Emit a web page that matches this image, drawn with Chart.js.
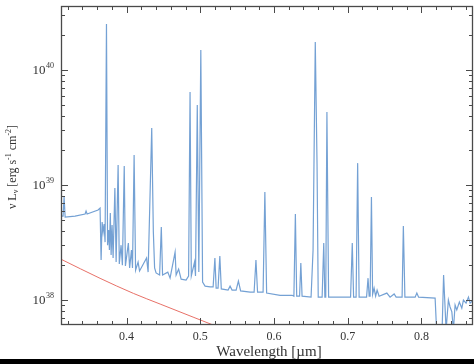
<!DOCTYPE html>
<html>
<head>
<meta charset="utf-8">
<script src="https://cdn.jsdelivr.net/npm/chart.js@4"></script>
<style>
  html, body { margin: 0; padding: 0; background: #000; }
  #wrap { width: 474px; height: 359px; background: #fff; }
  canvas { display: block; }
</style>
</head>
<body>
<div id="wrap"><canvas id="chart" width="474" height="359"></canvas></div>
<script>
// observed spectrum (wavelength in micron, nu L_nu in erg/s)
const wavelength = [
  0.3111, 0.3138, 0.3152, 0.3166, 0.3301, 0.3437, 0.3450, 0.3464, 0.3613, 0.3640,
  0.3654, 0.3668, 0.3681, 0.3695, 0.3708, 0.3727, 0.3742, 0.3756, 0.3767, 0.3779,
  0.3790, 0.3803, 0.3817, 0.3841, 0.3858, 0.3885, 0.3901, 0.3925, 0.3943, 0.3968,
  0.3984, 0.4024, 0.4041, 0.4066, 0.4080, 0.4102, 0.4122, 0.4156, 0.4176, 0.4271,
  0.4292, 0.4341, 0.4363, 0.4380, 0.4400, 0.4448, 0.4471, 0.4488, 0.4559, 0.4590,
  0.4658, 0.4672, 0.4706, 0.4740, 0.4807, 0.4841, 0.4861, 0.4878, 0.4922, 0.4935,
  0.4959, 0.4980, 0.5007, 0.5031, 0.5065, 0.5133, 0.5174, 0.5198, 0.5215, 0.5241,
  0.5265, 0.5285, 0.5377, 0.5404, 0.5431, 0.5486, 0.5517, 0.5547, 0.5676, 0.5730,
  0.5755, 0.5777, 0.5852, 0.5876, 0.5900, 0.6083, 0.6246, 0.6270, 0.6290, 0.6308,
  0.6347, 0.6364, 0.6381, 0.6503, 0.6530, 0.6560, 0.6584, 0.6600, 0.6653, 0.6675,
  0.6690, 0.6702, 0.6718, 0.6741, 0.7039, 0.7062, 0.7080, 0.7114, 0.7135, 0.7155,
  0.7256, 0.7276, 0.7291, 0.7304, 0.7322, 0.7338, 0.7358, 0.7379, 0.7399, 0.7426,
  0.7531, 0.7575, 0.7630, 0.7657, 0.7738, 0.7755, 0.7776, 0.7915, 0.7938, 0.7962,
  0.8186, 0.8206, 0.8281, 0.8301, 0.8335, 0.8366, 0.8389, 0.8413, 0.8434, 0.8457,
  0.8480, 0.8515, 0.8548, 0.8570, 0.8606, 0.8638, 0.8661, 0.8701
];
const flux = [
  5.37e38, 5.37e38, 7.9e38, 5.27e38, 5.37e38, 5.6e38, 5.94e38, 5.6e38, 6.07e38, 6.31e38,
  2.23e38, 4.77e38, 3.9e38, 4.58e38, 3.19e38, 2.51e40, 3.0e38, 4.06e38, 2.72e38, 5.71e38,
  2.46e38, 4.49e38, 2.32e38, 9.4e38, 2.14e38, 1.49e39, 2.06e38, 3.0e38, 2.01e38, 1.46e39,
  1.98e38, 3.13e38, 1.9e38, 2.72e38, 1.9e38, 1.82e39, 1.82e38, 2.14e38, 1.79e38, 2.32e38,
  1.75e38, 3.13e39, 3.9e38, 1.9e38, 1.72e38, 1.65e38, 4.31e38, 1.65e38, 1.75e38, 1.55e38,
  2.61e38, 1.65e38, 1.86e38, 1.52e38, 1.49e38, 1.62e38, 6.44e39, 1.62e38, 2.14e38, 1.62e38,
  4.97e39, 1.75e38, 1.49e40, 1.43e38, 1.32e38, 1.3e38, 1.3e38, 2.32e38, 1.27e38, 1.27e38,
  2.41e38, 1.25e38, 1.22e38, 1.32e38, 1.22e38, 1.22e38, 1.46e38, 1.2e38, 1.17e38, 1.17e38,
  2.23e38, 1.17e38, 1.17e38, 8.7e38, 1.15e38, 1.1e38, 1.1e38, 1.08e38, 5.6e38, 1.08e38,
  1.08e38, 2.1e38, 1.08e38, 1.06e38, 2.72e38, 1.75e40, 1.5e39, 1.06e38, 1.06e38, 3.13e38,
  1.06e38, 1.06e38, 4.31e39, 1.06e38, 1.06e38, 3.13e38, 1.06e38, 1.06e38, 1.55e39, 1.06e38,
  1.06e38, 1.55e38, 1.08e38, 1.08e38, 7.87e38, 1.12e38, 1.27e38, 1.08e38, 1.22e38, 1.08e38,
  1.15e38, 1.06e38, 1.13e38, 1.06e38, 1.06e38, 4.4e38, 1.06e38, 1.06e38, 1.15e38, 1.06e38,
  1.04e38, 5.5e37, 5.5e37, 1.65e38, 5.5e37, 1.0e38, 0.87e38, 0.79e38, 5.5e37, 0.905e38,
  0.82e38, 0.96e38, 0.85e38, 1.0e38, 0.94e38, 1.06e38, 0.94e38, 1.0e38
];
// red model curve
const modelWave = [0.3107, 0.3640, 0.4092, 0.4455, 0.4902, 0.5174, 0.5600];
const modelFlux = [2.27e38, 1.545e38, 1.143e38, 0.923e38, 0.711e38, 0.607e38, 0.48e38];

const xTicks = [0.4, 0.5, 0.6, 0.7, 0.8];
const xTickLabels = ["0.4", "0.5", "0.6", "0.7", "0.8"];
const yTicks = [1e38, 1e39, 1e40];
const yTickExps = ["38", "39", "40"];

const X_MIN = 0.311, X_MAX = 0.87;
const Y_MIN = 6.07e37, Y_MAX = 3.6e40;

// draws the IDL-style box with inward ticks and labels
const axisFrame = {
    id: "axisFrame",
    beforeDraw(chart) {
        const ctx = chart.ctx;
        ctx.save();
        ctx.fillStyle = "#fff";
        ctx.fillRect(0, 0, chart.width, chart.height);
        ctx.restore();
    },
    afterDraw(chart) {
        const { ctx, chartArea: a, scales: { x, y } } = chart;
        ctx.save();
        ctx.strokeStyle = "#4a4a4a";
        ctx.lineWidth = 1.3;
        ctx.strokeRect(a.left + 0.5, a.top + 0.5, a.right - a.left - 1, a.bottom - a.top - 1);

        ctx.lineWidth = 1;
        ctx.beginPath();
        // x minor/major ticks, bottom and top
        for (let i = 16; i <= 43; i++) {
            let v = i * 0.02;
            if (v < X_MIN || v > X_MAX) continue;
            let px = Math.round(x.getPixelForValue(v)) + 0.5;
            let major = xTicks.some(t => Math.abs(t - v) < 1e-6);
            let len = major ? 7 : 4;
            ctx.moveTo(px, a.bottom); ctx.lineTo(px, a.bottom - len);
            ctx.moveTo(px, a.top); ctx.lineTo(px, a.top + len);
        }
        // y log ticks, left and right
        for (let e = 37; e <= 40; e++) {
            for (let k = 1; k <= 9; k++) {
                let v = k * Math.pow(10, e);
                if (v < Y_MIN || v > Y_MAX) continue;
                let py = Math.round(y.getPixelForValue(v)) + 0.5;
                let len = k === 1 ? 7 : 4;
                ctx.moveTo(a.left, py); ctx.lineTo(a.left + len, py);
                ctx.moveTo(a.right, py); ctx.lineTo(a.right - len, py);
            }
        }
        ctx.stroke();

        ctx.fillStyle = "#333";
        ctx.font = "12px 'Liberation Serif'";
        ctx.textAlign = "center";
        ctx.textBaseline = "middle";
        xTicks.forEach((t, i) => {
            ctx.fillText(xTickLabels[i], x.getPixelForValue(t), 337);
        });

        yTicks.forEach((t, i) => {
            let py = y.getPixelForValue(t);
            ctx.font = "8px 'Liberation Serif'";
            ctx.textAlign = "right";
            let ew = ctx.measureText(yTickExps[i]).width;
            ctx.fillText(yTickExps[i], 54, py - 4);
            ctx.font = "13px 'Liberation Serif'";
            ctx.fillText("10", 54 - ew - 0.5, py + 1);
        });

        ctx.font = "15px 'Liberation Serif'";
        ctx.textAlign = "center";
        ctx.fillText("Wavelength [\u00b5m]", 269, 352);

        // y title, rotated, built from pieces
        const parts = [
            ["\u03bd L", 12, 0], ["\u03bd", 8, 3], [" [erg s", 12, 0], ["-1", 8, -4],
            [" cm", 12, 0], ["-2", 8, -4], ["]", 12, 0]
        ];
        let total = 0;
        parts.forEach(p => { ctx.font = p[1] + "px 'Liberation Serif'"; total += ctx.measureText(p[0]).width; });
        ctx.translate(13, 167);
        ctx.rotate(-Math.PI / 2);
        ctx.textAlign = "left";
        let cx = -total / 2;
        parts.forEach(p => {
            ctx.font = p[1] + "px 'Liberation Serif'";
            ctx.fillText(p[0], cx, p[2]);
            cx += ctx.measureText(p[0]).width;
        });
        ctx.restore();
    }
};

new Chart(document.getElementById("chart"), {
    type: "line",
    data: {
        datasets: [
            {
                data: wavelength.map((w, i) => ({ x: w, y: flux[i] })),
                borderColor: "#74a1d4",
                borderWidth: 1.2,
                pointRadius: 0,
                tension: 0
            },
            {
                data: modelWave.map((w, i) => ({ x: w, y: modelFlux[i] })),
                borderColor: "#e87168",
                borderWidth: 1,
                pointRadius: 0,
                tension: 0.4,
                cubicInterpolationMode: "monotone"
            }
        ]
    },
    options: {
        responsive: false,
        animation: false,
        layout: { padding: { left: 61, top: 6, right: 1, bottom: 34 } },
        plugins: { legend: { display: false }, tooltip: { enabled: false } },
        scales: {
            x: { type: "linear", min: X_MIN, max: X_MAX, display: false },
            y: { type: "logarithmic", min: Y_MIN, max: Y_MAX, display: false }
        }
    },
    plugins: [axisFrame]
});
</script>
</body>
</html>
